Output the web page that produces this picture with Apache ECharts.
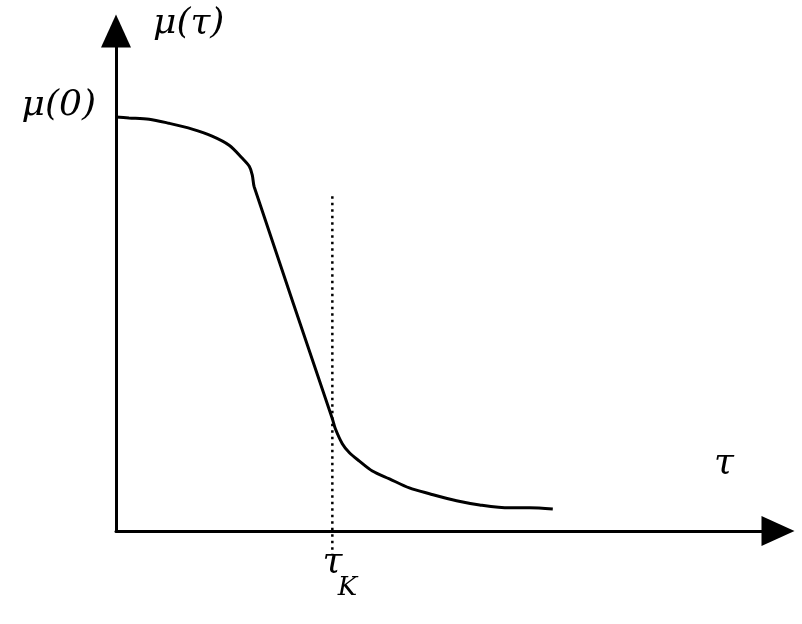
<!DOCTYPE html>
<html>
<head>
<meta charset="utf-8">
<script src="https://cdn.jsdelivr.net/npm/echarts@6/dist/echarts.min.js"></script>
<style>
html,body{margin:0;padding:0;background:#fff;}
#chart{width:802px;height:624px;}
</style>
</head>
<body>
<div id="chart"></div>
<script>
// Curve mu(tau), in units where mu(0)=1 and tau_K=1
const tauValues = [0, 0.060, 0.153, 0.245, 0.352, 0.444, 0.523, 0.583, 0.616, 0.630, 0.639,
  1.000, 1.014, 1.046, 1.079, 1.125, 1.185, 1.264, 1.356, 1.449, 1.574, 1.681, 1.819, 1.912, 2.019];
const muValues = [1.000, 0.998, 0.995, 0.985, 0.971, 0.954, 0.932, 0.901, 0.881, 0.860, 0.831,
  0.271, 0.247, 0.211, 0.189, 0.169, 0.145, 0.126, 0.104, 0.090, 0.073, 0.063, 0.056, 0.056, 0.053];
const tauK = 1;
const markerY = [0.809, -0.056];
const xMax = 3.06, yMax = 1.208;
const yTickLabel = 'μ(0)';
const xTickLabel = 'τ';
const xTickSub = 'K';
const yAxisName = 'μ(τ)';
const xAxisName = 'τ';

const curve = tauValues.map((t, i) => [t, muValues[i]]);
const marker = markerY.map(v => [tauK, v]);
const serif = 'DejaVu Serif';

const chart = echarts.init(document.getElementById('chart'), null, {renderer: 'canvas'});
chart.setOption({
  animation: false,
  backgroundColor: '#fff',
  grid: {left: 116, right: 24, top: 31, bottom: 93},
  xAxis: {
    type: 'value', min: 0, max: xMax, interval: 1,
    axisLine: {onZero: false, lineStyle: {color: '#000', width: 3}, symbol: ['none', 'triangle'], symbolSize: [30, 33]},
    axisTick: {show: false}, splitLine: {show: false},
    axisLabel: {
      margin: 20, showMaxLabel: false, showMinLabel: false,
      formatter: v => Math.abs(v - tauK) < 1e-9 ? '{t|' + xTickLabel + '}\n{k|' + xTickSub + '}' : '',
      rich: {
        t: {fontFamily: serif, fontStyle: 'italic', fontSize: 36, color: '#000', lineHeight: 24},
        k: {fontFamily: serif, fontStyle: 'italic', fontSize: 26, color: '#000', lineHeight: 26, padding: [0, 0, 0, 30]}
      }
    }
  },
  yAxis: {
    type: 'value', min: 0, max: yMax, interval: 1,
    axisLine: {onZero: false, lineStyle: {color: '#000', width: 3}, symbol: ['none', 'triangle'], symbolSize: [30, 33]},
    axisTick: {show: false}, splitLine: {show: false},
    axisLabel: {
      margin: 20, showMaxLabel: false, showMinLabel: false,
      formatter: v => Math.abs(v - 1) < 1e-9 ? yTickLabel : '',
      fontFamily: serif, fontStyle: 'italic', fontSize: 36, color: '#000',
      verticalAlign: 'bottom', lineHeight: 22
    }
  },
  graphic: [
    {type: 'text', left: 153, top: 6, style: {text: yAxisName, font: 'italic 36px "DejaVu Serif"', fill: '#000'}},
    {type: 'text', left: 714, top: 446, style: {text: xAxisName, font: 'italic 36px "DejaVu Serif"', fill: '#000'}}
  ],
  series: [
    {type: 'line', data: curve, showSymbol: false, smooth: 0.3, lineStyle: {color: '#000', width: 3}, z: 3},
    {type: 'line', data: marker, showSymbol: false, clip: false, lineStyle: {color: '#000', width: 2.5, type: [2.5, 4]}, z: 2}
  ]
});
</script>
</body>
</html>
